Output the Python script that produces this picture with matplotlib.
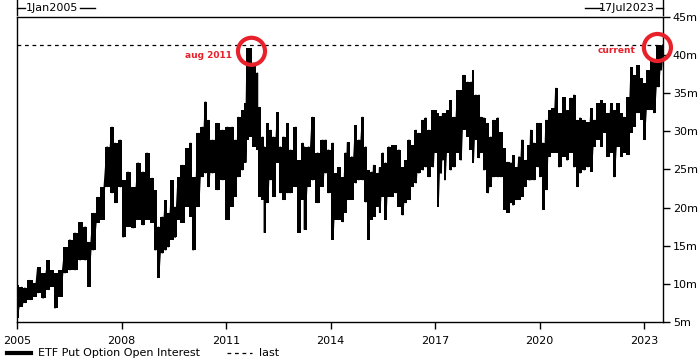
import numpy as np
import matplotlib
matplotlib.use("Agg")
import matplotlib.pyplot as plt
from matplotlib.lines import Line2D

# decimal-year dates with the high / low of the band
dates = [
    2005.00, 2005.14, 2005.23, 2005.37, 2005.52, 2005.60, 2005.75, 2005.89, 2006.01, 2006.09,
    2006.24, 2006.38, 2006.52, 2006.67, 2006.81, 2006.96, 2007.04, 2007.19, 2007.33, 2007.44,
    2007.59, 2007.73, 2007.82, 2007.96, 2008.05, 2008.19, 2008.34, 2008.48, 2008.62, 2008.74,
    2008.88, 2008.97, 2009.06, 2009.17, 2009.26, 2009.34, 2009.46, 2009.54, 2009.63, 2009.75,
    2009.89, 2009.98, 2010.06, 2010.21, 2010.32, 2010.41, 2010.49, 2010.61, 2010.75, 2010.90,
    2011.04, 2011.18, 2011.27, 2011.36, 2011.47, 2011.56, 2011.61, 2011.70, 2011.79, 2011.90,
    2011.96, 2012.05, 2012.10, 2012.19, 2012.28, 2012.36, 2012.48, 2012.56, 2012.65, 2012.77,
    2012.85, 2013.00, 2013.08, 2013.20, 2013.25, 2013.37, 2013.48, 2013.63, 2013.77, 2013.86,
    2013.94, 2014.06, 2014.15, 2014.23, 2014.35, 2014.43, 2014.49, 2014.61, 2014.72, 2014.81,
    2014.92, 2015.01, 2015.07, 2015.18, 2015.24, 2015.35, 2015.41, 2015.50, 2015.58, 2015.67,
    2015.79, 2015.87, 2015.96, 2016.07, 2016.16, 2016.25, 2016.36, 2016.45, 2016.53, 2016.65,
    2016.73, 2016.82, 2016.94, 2017.02, 2017.08, 2017.17, 2017.22, 2017.28, 2017.37, 2017.45,
    2017.54, 2017.65, 2017.74, 2017.83, 2017.94, 2018.03, 2018.09, 2018.17, 2018.26, 2018.32,
    2018.40, 2018.52, 2018.60, 2018.69, 2018.80, 2018.89, 2018.98, 2019.09, 2019.18, 2019.24,
    2019.32, 2019.41, 2019.50, 2019.58, 2019.70, 2019.75, 2019.84, 2019.96, 2020.01, 2020.10,
    2020.19, 2020.27, 2020.39, 2020.47, 2020.56, 2020.70, 2020.79, 2020.90, 2020.99, 2021.08,
    2021.16, 2021.28, 2021.39, 2021.48, 2021.57, 2021.68, 2021.77, 2021.85, 2021.97, 2022.05,
    2022.14, 2022.26, 2022.34, 2022.43, 2022.54, 2022.63, 2022.72, 2022.83, 2022.92, 2023.00,
    2023.12, 2023.21, 2023.29, 2023.41, 2023.49,
]
highs = [
    9.9, 9.6, 9.5, 10.5, 10.1, 12.2, 11.4, 13.1, 11.8, 11.4,
    11.8, 14.8, 15.8, 16.7, 18.1, 17.5, 15.5, 19.3, 21.4, 22.7,
    28.0, 30.6, 28.5, 28.9, 23.6, 24.7, 22.7, 25.9, 24.7, 27.2,
    23.9, 22.3, 17.5, 18.8, 21.0, 19.3, 23.6, 20.1, 24.0, 25.6,
    27.8, 28.5, 24.0, 29.8, 30.6, 33.9, 31.5, 28.9, 31.1, 30.2,
    30.6, 30.6, 28.9, 31.9, 32.8, 33.7, 40.9, 40.9, 39.0, 37.7,
    33.2, 29.3, 28.0, 31.1, 30.2, 29.3, 32.5, 28.0, 29.3, 31.1,
    27.6, 30.6, 26.2, 28.5, 28.0, 28.0, 31.9, 27.2, 28.9, 28.9,
    27.6, 28.5, 24.5, 25.3, 24.0, 27.2, 28.6, 26.7, 30.8, 28.9,
    31.9, 28.0, 24.9, 24.7, 25.6, 24.5, 25.3, 27.2, 25.9, 28.0,
    28.2, 28.2, 27.6, 25.3, 26.2, 28.9, 28.2, 30.2, 29.8, 31.5,
    31.8, 30.2, 32.8, 32.8, 32.4, 32.0, 32.4, 32.4, 32.8, 34.1,
    31.9, 35.4, 35.4, 37.4, 36.5, 36.5, 38.0, 34.8, 34.8, 31.9,
    31.8, 31.1, 29.3, 31.5, 31.8, 29.9, 27.8, 26.0, 25.9, 26.9,
    25.3, 26.7, 28.9, 26.2, 28.2, 30.2, 28.5, 31.1, 31.1, 28.5,
    31.5, 32.8, 33.0, 35.7, 32.4, 34.5, 32.8, 34.4, 34.8, 31.5,
    31.8, 31.5, 31.2, 33.0, 31.5, 33.7, 34.1, 33.7, 32.4, 33.7,
    32.8, 33.7, 32.4, 31.9, 34.5, 38.4, 37.4, 38.7, 37.0, 36.3,
    38.0, 39.4, 39.4, 41.3, 41.3,
]
lows = [
    5.5, 7.0, 7.5, 7.9, 8.3, 8.8, 8.1, 9.2, 9.6, 6.8,
    8.3, 11.4, 11.8, 11.8, 13.1, 13.1, 9.6, 14.4, 18.0, 18.4,
    22.7, 21.9, 20.6, 22.7, 16.1, 17.5, 17.3, 18.4, 17.7, 18.4,
    18.0, 14.4, 10.8, 14.0, 14.4, 14.8, 15.8, 16.1, 18.4, 18.0,
    20.1, 18.8, 14.4, 20.1, 24.0, 24.5, 22.7, 24.5, 22.3, 23.6,
    18.4, 20.1, 21.4, 24.0, 24.9, 25.9, 28.9, 29.3, 28.0, 27.6,
    21.4, 21.0, 16.7, 20.6, 23.6, 21.4, 25.9, 21.9, 21.0, 21.9,
    21.9, 22.7, 16.7, 21.0, 17.1, 22.7, 23.6, 20.6, 22.7, 24.5,
    21.9, 15.8, 18.4, 18.4, 18.1, 19.3, 21.0, 21.0, 23.2, 23.6,
    23.6, 20.7, 15.8, 18.4, 18.8, 20.1, 19.3, 21.4, 18.4, 21.4,
    21.4, 21.9, 20.1, 19.0, 20.6, 21.0, 22.7, 23.2, 24.5, 24.9,
    25.3, 24.0, 25.3, 27.2, 20.1, 24.5, 26.2, 23.6, 27.2, 24.9,
    25.3, 27.2, 26.2, 30.2, 29.3, 27.6, 25.9, 28.9, 26.5, 27.2,
    24.9, 21.9, 22.7, 24.0, 24.0, 24.0, 19.7, 19.3, 20.6, 20.3,
    21.0, 21.0, 21.4, 22.7, 23.6, 23.6, 23.6, 25.3, 24.0, 19.7,
    22.3, 26.7, 27.2, 27.2, 25.3, 26.7, 26.2, 27.2, 25.3, 22.7,
    24.5, 24.9, 25.3, 24.7, 28.0, 28.9, 28.0, 29.8, 26.7, 27.2,
    24.0, 28.0, 26.7, 27.2, 26.9, 29.8, 30.6, 32.4, 31.5, 28.9,
    32.8, 32.8, 32.4, 35.8, 38.0,
]
last_date = 2023.54
last_value = 41.3

year_ticks = [2005, 2008, 2011, 2014, 2017, 2020, 2023]
value_ticks = [5, 10, 15, 20, 25, 30, 35, 40, 45]
callouts = [("aug 2011", 2011.73, 40.5), ("current", 2023.38, 41.0)]

red = "#e8202a"

# zig-zag between high and low so the band looks like dense daily data
x, y = [], []
for d, h, l in zip(dates, highs, lows):
    x += [d, d]
    y += [h, l]
x.append(last_date)
y.append(last_value)

fig = plt.figure(figsize=(7.0, 3.63), dpi=100)
ax = fig.add_axes([17 / 700, 1 - 322 / 363, 646 / 700, 305 / 363])

# blocky high/low band plus the zig-zag for the spiky look of daily data
ax.fill_between(dates, lows, highs, step="mid", color="black", lw=0)
ax.plot(x, y, color="black", lw=1.2, solid_joinstyle="miter")
ax.axhline(last_value, color="black", lw=0.9, ls=(0, (3, 3)))

ax.set_xlim(2005, last_date)
ax.set_ylim(5, 45)
ax.set_xticks(year_ticks)
ax.set_xticklabels([str(t) for t in year_ticks])
ax.set_yticks(value_ticks)
ax.set_yticklabels([f"{v}m" for v in value_ticks])
ax.yaxis.tick_right()
ax.tick_params(axis="both", labelsize=8, length=5, width=1, color="black", pad=2)
ax.tick_params(axis="x", pad=5)
for s in ax.spines.values():
    s.set_linewidth(1)

# red callout circles and labels
for name, d, v in callouts:
    ax.scatter([d], [v], s=380, facecolor="none", edgecolor=red, linewidths=3, zorder=5, clip_on=False)
ax.text(2011.73 - 0.55, 40.5 - 0.5, "aug 2011", color=red, fontsize=6.5, fontweight="bold",
        ha="right", va="center")
ax.text(2023.38 - 0.62, 41.0 - 0.4, "current", color=red, fontsize=6.5, fontweight="bold",
        ha="right", va="center")

# date range labels above the frame
tr = ax.get_xaxis_transform()
ax.text(2005.25, 1.03, "1Jan2005", transform=tr, fontsize=8, ha="left", va="center")
ax.plot([2005, 2005.22], [1.03, 1.03], transform=tr, color="black", lw=1, clip_on=False)
ax.plot([2005, 2005], [1.005, 1.055], transform=tr, color="black", lw=1, clip_on=False)
ax.plot([2006.8, 2007.25], [1.03, 1.03], transform=tr, color="black", lw=1, clip_on=False)
ax.text(last_date - 0.25, 1.03, "17Jul2023", transform=tr, fontsize=8, ha="right", va="center")
ax.plot([last_date - 0.2, last_date], [1.03, 1.03], transform=tr, color="black", lw=1, clip_on=False)
ax.plot([last_date, last_date], [1.005, 1.055], transform=tr, color="black", lw=1, clip_on=False)
ax.plot([2021.3, 2021.75], [1.03, 1.03], transform=tr, color="black", lw=1, clip_on=False)

handles = [Line2D([], [], color="black", lw=3),
           Line2D([], [], color="black", lw=0.9, ls=(0, (3, 3)))]
fig.legend(handles, ["ETF Put Option Open Interest", "last"], loc="lower left",
           bbox_to_anchor=(-0.005, -0.015), ncol=2, frameon=False, fontsize=8,
           handlelength=2.2, handletextpad=0.6, columnspacing=2.5)

fig.savefig("out.png", dpi=100)
